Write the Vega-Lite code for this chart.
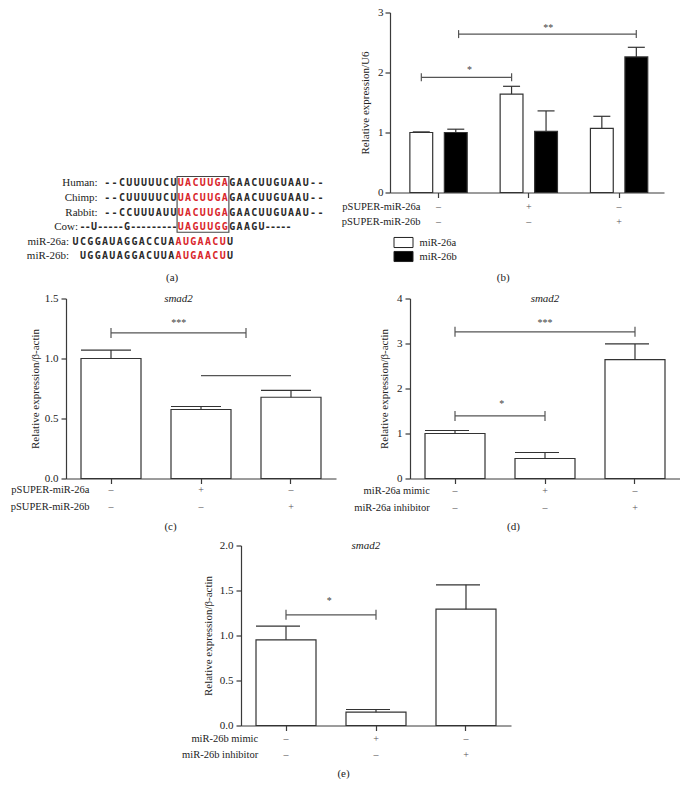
{
  "$schema": "https://vega.github.io/schema/vega-lite/v6.json",
  "padding": {"left": 10, "top": 6.5, "right": 0, "bottom": 0},
  "background": "white",
  "config": {
    "view": {"stroke": null},
    "font": "Liberation Serif",
    "axis": {"domainColor": "#3a3a3a", "tickColor": "#3a3a3a", "domainWidth": 1.2, "tickWidth": 1.2, "tickSize": 5, "labelColor": "#222", "titleColor": "#222", "labelFont": "Liberation Serif", "titleFont": "Liberation Serif", "labelFontSize": 11, "titleFontSize": 11, "titleFontWeight": "normal", "grid": false, "labelPadding": 3},
    "text": {"font": "Liberation Serif", "color": "#222"},
    "bar": {"opacity": 1},
    "tick": {"opacity": 1},
    "point": {"opacity": 1}
  },
  "datasets": {
    "bv": [
      {"g": "1", "s": "miR-26a", "v": 1.0, "e": 1.01},
      {"g": "1", "s": "miR-26b", "v": 1.0, "e": 1.055},
      {"g": "2", "s": "miR-26a", "v": 1.64, "e": 1.77},
      {"g": "2", "s": "miR-26b", "v": 1.02, "e": 1.36},
      {"g": "3", "s": "miR-26a", "v": 1.07, "e": 1.27},
      {"g": "3", "s": "miR-26b", "v": 2.26, "e": 2.42}
    ],
    "cv": [
      {"g": "1", "v": 1.0, "e": 1.07},
      {"g": "2", "v": 0.575, "e": 0.6},
      {"g": "3", "v": 0.677, "e": 0.735}
    ],
    "dv": [
      {"g": "1", "v": 1.0, "e": 1.067},
      {"g": "2", "v": 0.444, "e": 0.578},
      {"g": "3", "v": 2.64, "e": 2.99}
    ],
    "ev": [
      {"g": "1", "v": 0.952, "e": 1.104},
      {"g": "2", "v": 0.148, "e": 0.178},
      {"g": "3", "v": 1.293, "e": 1.563}
    ],
    "pt": [
      {"row": "pSUPER-miR-26a", "g": "1", "s": "–"},
      {"row": "pSUPER-miR-26a", "g": "2", "s": "+"},
      {"row": "pSUPER-miR-26a", "g": "3", "s": "–"},
      {"row": "pSUPER-miR-26b", "g": "1", "s": "–"},
      {"row": "pSUPER-miR-26b", "g": "2", "s": "–"},
      {"row": "pSUPER-miR-26b", "g": "3", "s": "+"}
    ],
    "dt": [
      {"row": "miR-26a mimic", "g": "1", "s": "–"},
      {"row": "miR-26a mimic", "g": "2", "s": "+"},
      {"row": "miR-26a mimic", "g": "3", "s": "–"},
      {"row": "miR-26a inhibitor", "g": "1", "s": "–"},
      {"row": "miR-26a inhibitor", "g": "2", "s": "–"},
      {"row": "miR-26a inhibitor", "g": "3", "s": "+"}
    ],
    "et": [
      {"row": "miR-26b mimic", "g": "1", "s": "–"},
      {"row": "miR-26b mimic", "g": "2", "s": "+"},
      {"row": "miR-26b mimic", "g": "3", "s": "–"},
      {"row": "miR-26b inhibitor", "g": "1", "s": "–"},
      {"row": "miR-26b inhibitor", "g": "2", "s": "–"},
      {"row": "miR-26b inhibitor", "g": "3", "s": "+"}
    ],
    "seq": [
      {"r": 0, "k": "b", "t": ["-","-","C","U","U","U","U","U","C","U","G","A","A","C","U","U","G","U","A","A","U","-","-"], "c": [-10,-9,-8,-7,-6,-5,-4,-3,-2,-1,7,8,9,10,11,12,13,14,15,16,17,18,19]},
      {"r": 0, "k": "r", "t": ["U","A","C","U","U","G","A"], "c": [0,1,2,3,4,5,6]},
      {"r": 1, "k": "b", "t": ["-","-","C","U","U","U","U","U","C","U","G","A","A","C","U","U","G","U","A","A","U","-","-"], "c": [-10,-9,-8,-7,-6,-5,-4,-3,-2,-1,7,8,9,10,11,12,13,14,15,16,17,18,19]},
      {"r": 1, "k": "r", "t": ["U","A","C","U","U","G","A"], "c": [0,1,2,3,4,5,6]},
      {"r": 2, "k": "b", "t": ["-","-","C","C","U","U","U","A","U","U","G","A","A","C","U","U","G","U","A","A","U","-","-"], "c": [-10,-9,-8,-7,-6,-5,-4,-3,-2,-1,7,8,9,10,11,12,13,14,15,16,17,18,19]},
      {"r": 2, "k": "r", "t": ["U","A","C","U","U","G","A"], "c": [0,1,2,3,4,5,6]},
      {"r": 3, "k": "b", "t": ["-","-","U","-","-","-","-","-","G","-","-","-","-","-","-","-","-","-","G","A","A","G","U","-","-","-","-","-"], "c": [-13.35,-12.65,-11.8,-10.95,-10.25,-9.55,-8.85,-8.15,-7.3,-6.45,-5.75,-5.05,-4.35,-3.65,-2.95,-2.25,-1.55,-0.85,7,8,9,10,11,11.85,12.55,13.25,13.95,14.65]},
      {"r": 3, "k": "r", "t": ["U","A","G","U","U","G","G"], "c": [0,1,2,3,4,5,6]},
      {"r": 4, "k": "b", "t": ["U","C","G","G","A","U","A","G","G","A","C","C","U","A","U"], "c": [-14.3,-13.3,-12.3,-11.3,-10.3,-9.3,-8.3,-7.3,-6.3,-5.3,-4.3,-3.3,-2.3,-1.3,6.7]},
      {"r": 4, "k": "r", "t": ["A","U","G","A","A","C","U"], "c": [-0.3,0.7,1.7,2.7,3.7,4.7,5.7]},
      {"r": 5, "k": "b", "t": ["U","G","G","A","U","A","G","G","A","C","U","U","A","U"], "c": [-13.3,-12.3,-11.3,-10.3,-9.3,-8.3,-7.3,-6.3,-5.3,-4.3,-3.3,-2.3,-1.3,6.7]},
      {"r": 5, "k": "r", "t": ["A","U","G","A","A","C","U"], "c": [-0.3,0.7,1.7,2.7,3.7,4.7,5.7]}
    ],
    "seqLabels": [
      {"r": 0, "c": -11.3, "t": "Human:"},
      {"r": 1, "c": -11.3, "t": "Chimp:"},
      {"r": 2, "c": -11.3, "t": "Rabbit:"},
      {"r": 3, "c": -13.97, "t": "Cow:"},
      {"r": 4, "c": -15.2, "t": "miR-26a:"},
      {"r": 5, "c": -15.2, "t": "miR-26b:"}
    ]
  },
  "spacing": 8,
  "vconcat": [
    {
      "spacing": 15,
      "hconcat": [
        {
          "width": 260,
          "height": 271.5,
          "layer": [
            {
              "data": {"name": "seq"},
              "transform": [{"flatten": ["t", "c"]}],
              "mark": {"type": "text", "font": "DejaVu Sans Mono", "fontWeight": "bold", "fontSize": 10, "baseline": "middle", "align": "center"},
              "encoding": {
                "x": {"field": "c", "type": "quantitative", "scale": {"domain": [-15.61, 19.76], "nice": false, "zero": false}, "axis": null},
                "y": {"field": "r", "type": "quantitative", "scale": {"domain": [-11.71, 6.886], "nice": false, "zero": false, "reverse": true}, "axis": null},
                "text": {"field": "t"},
                "color": {"field": "k", "type": "nominal", "scale": {"domain": ["b", "r"], "range": ["#2a2a2a", "#d9262b"]}, "legend": null}
              }
            },
            {
              "data": {"name": "seqLabels"},
              "mark": {"type": "text", "fontSize": 11, "baseline": "middle", "align": "right", "color": "#222"},
              "encoding": {
                "x": {"field": "c", "type": "quantitative"},
                "y": {"field": "r", "type": "quantitative"},
                "text": {"field": "t"}
              }
            },
            {
              "data": {"values": [{"r": 6.5, "c": -1.18, "t": "(a)"}]},
              "mark": {"type": "text", "fontSize": 11, "baseline": "middle", "align": "center", "color": "#222"},
              "encoding": {
                "x": {"field": "c", "type": "quantitative"},
                "y": {"field": "r", "type": "quantitative"},
                "text": {"field": "t"}
              }
            },
            {
              "data": {"values": [{"c1": -0.5, "c2": 6.55, "r1": -0.48, "r2": 3.34}]},
              "mark": {"type": "rect", "fill": null, "stroke": "#444", "strokeWidth": 1.1},
              "encoding": {
                "x": {"field": "c1", "type": "quantitative"},
                "x2": {"field": "c2"},
                "y": {"field": "r1", "type": "quantitative"},
                "y2": {"field": "r2"}
              }
            }
          ]
        },
        {
          "bounds": "flush",
          "spacing": 6.5,
          "vconcat": [
            {
              "width": 274,
              "height": 180,
              "layer": [
                {
                  "data": {"name": "bv"},
                  "mark": {"type": "bar", "stroke": "#333", "strokeWidth": 1.2},
                  "encoding": {
                    "x": {"field": "g", "type": "nominal", "scale": {"type": "band", "domain": ["1", "2", "3"], "paddingInner": 0.365, "paddingOuter": 0.2, "align": 0.55}, "axis": {"labels": false, "title": null}},
                    "xOffset": {"field": "s", "type": "nominal", "scale": {"domain": ["miR-26a", "miR-26b"], "paddingInner": 0.338, "paddingOuter": 0}},
                    "y": {"field": "v", "type": "quantitative", "scale": {"domain": [0, 3], "nice": false}, "axis": {"title": "Relative expression/U6", "values": [0, 1, 2, 3], "format": "d", "labelPadding": 2, "titlePadding": 7}},
                    "fill": {"field": "s", "type": "nominal", "scale": {"domain": ["miR-26a", "miR-26b"], "range": ["#ffffff", "#000000"]}, "legend": null}
                  }
                },
                {
                  "data": {"name": "bv"},
                  "mark": {"type": "rule", "color": "#333", "strokeWidth": 1.2},
                  "encoding": {
                    "x": {"field": "g", "type": "nominal"},
                    "xOffset": {"field": "s", "type": "nominal"},
                    "y": {"field": "v", "type": "quantitative"},
                    "y2": {"field": "e"}
                  }
                },
                {
                  "data": {"name": "bv"},
                  "mark": {"type": "tick", "orient": "horizontal", "color": "#333", "thickness": 1.2, "size": 17},
                  "encoding": {
                    "x": {"field": "g", "type": "nominal"},
                    "xOffset": {"field": "s", "type": "nominal"},
                    "y": {"field": "e", "type": "quantitative"}
                  }
                },
                {
                  "data": {"values": [{"a": "1", "b": "2", "y": 1.92}]},
                  "mark": {"type": "rule", "color": "#555", "strokeWidth": 1.2},
                  "encoding": {
                    "x": {"field": "a", "type": "nominal", "bandPosition": 0.2},
                    "x2": {"field": "b", "bandPosition": 0.2},
                    "y": {"field": "y", "type": "quantitative"}
                  }
                },
                {
                  "data": {"values": [{"a": "1", "b": "3", "y": 2.64}]},
                  "mark": {"type": "rule", "color": "#555", "strokeWidth": 1.2},
                  "encoding": {
                    "x": {"field": "a", "type": "nominal", "bandPosition": 0.85},
                    "x2": {"field": "b", "bandPosition": 0.8},
                    "y": {"field": "y", "type": "quantitative"}
                  }
                },
                {
                  "data": {"values": [{"x": "1", "y": 1.92}, {"x": "2", "y": 1.92}]},
                  "mark": {"type": "tick", "orient": "vertical", "color": "#555", "thickness": 1.2, "size": 8},
                  "encoding": {
                    "x": {"field": "x", "type": "nominal", "bandPosition": 0.2},
                    "y": {"field": "y", "type": "quantitative"}
                  }
                },
                {
                  "data": {"values": [{"x": "1", "y": 2.64}]},
                  "mark": {"type": "tick", "orient": "vertical", "color": "#555", "thickness": 1.2, "size": 8},
                  "encoding": {
                    "x": {"field": "x", "type": "nominal", "bandPosition": 0.85},
                    "y": {"field": "y", "type": "quantitative"}
                  }
                },
                {
                  "data": {"values": [{"x": "3", "y": 2.64}]},
                  "mark": {"type": "tick", "orient": "vertical", "color": "#555", "thickness": 1.2, "size": 8},
                  "encoding": {
                    "x": {"field": "x", "type": "nominal", "bandPosition": 0.8},
                    "y": {"field": "y", "type": "quantitative"}
                  }
                },
                {
                  "data": {"values": [{"x": "1", "y": 2.04, "t": "*"}]},
                  "mark": {"type": "text", "fontSize": 10, "baseline": "middle", "color": "#444"},
                  "encoding": {
                    "x": {"field": "x", "type": "nominal", "bandPosition": 1.04},
                    "y": {"field": "y", "type": "quantitative"},
                    "text": {"field": "t"}
                  }
                },
                {
                  "data": {"values": [{"x": "2", "y": 2.74, "t": "**"}]},
                  "mark": {"type": "text", "fontSize": 10, "baseline": "middle", "color": "#444"},
                  "encoding": {
                    "x": {"field": "x", "type": "nominal", "bandPosition": 0.84},
                    "y": {"field": "y", "type": "quantitative"},
                    "text": {"field": "t"}
                  }
                }
              ]
            },
            {
              "width": 274,
              "height": 30,
              "data": {"name": "pt"},
              "mark": {"type": "text", "fontSize": 10, "color": "#555", "baseline": "middle"},
              "encoding": {
                "x": {"field": "g", "type": "nominal", "scale": {"type": "band", "domain": ["1", "2", "3"], "paddingInner": 0.365, "paddingOuter": 0.2, "align": 0.55}, "axis": null},
                "y": {"field": "row", "type": "nominal", "scale": {"type": "band", "domain": ["pSUPER-miR-26a", "pSUPER-miR-26b"], "paddingInner": 0, "paddingOuter": 0}, "axis": {"domain": false, "ticks": false, "tickSize": 0, "labelPadding": -30, "labelAlign": "right", "labelFontSize": 10.5, "title": null}},
                "text": {"field": "s"}
              }
            },
            {
              "width": 27,
              "height": 28,
              "data": {"values": [{"s": "miR-26a"}, {"s": "miR-26b"}]},
              "mark": {"type": "point", "shape": "M-1,-0.53H1V0.53H-1Z", "size": 361, "filled": true, "stroke": "#222", "strokeWidth": 1, "opacity": 1},
              "encoding": {
                "x": {"datum": 0, "type": "quantitative", "scale": {"domain": [-1, 1]}, "axis": {"domain": false, "ticks": false, "labels": false, "grid": false, "title": "(b)", "titlePadding": 7.5, "titleX": 112.7}},
                "y": {"field": "s", "type": "nominal", "scale": {"type": "band", "domain": ["miR-26a", "miR-26b"], "paddingInner": 0, "paddingOuter": 0}, "axis": {"orient": "right", "domain": false, "ticks": false, "tickSize": 0, "labelPadding": 2, "labelFontSize": 10.5, "title": null}},
                "fill": {"field": "s", "type": "nominal", "scale": {"domain": ["miR-26a", "miR-26b"], "range": ["#ffffff", "#000000"]}, "legend": null}
              }
            }
          ]
        }
      ]
    },
    {
      "spacing": 17,
      "hconcat": [
        {
          "bounds": "flush",
          "spacing": 3.35,
          "vconcat": [
            {
              "width": 270,
              "height": 180,
              "layer": [
                {
                  "data": {"name": "cv"},
                  "mark": {"type": "bar", "fill": "#ffffff", "stroke": "#333", "strokeWidth": 1.2},
                  "encoding": {
                    "x": {"field": "g", "type": "nominal", "scale": {"type": "band", "domain": ["1", "2", "3"], "paddingInner": 0.3333, "paddingOuter": 0.1667}, "axis": {"labels": false, "title": null}},
                    "y": {"field": "v", "type": "quantitative", "scale": {"domain": [0, 1.5], "nice": false}, "axis": {"title": "Relative expression/β-actin", "values": [0, 0.5, 1, 1.5], "format": ".1f", "titlePadding": 4}}
                  }
                },
                {
                  "data": {"name": "cv"},
                  "mark": {"type": "rule", "color": "#333", "strokeWidth": 1.2},
                  "encoding": {"x": {"field": "g", "type": "nominal"}, "y": {"field": "v", "type": "quantitative"}, "y2": {"field": "e"}}
                },
                {
                  "data": {"name": "cv"},
                  "mark": {"type": "tick", "orient": "horizontal", "color": "#333", "thickness": 1.2, "size": 50, "xOffset": -5},
                  "encoding": {"x": {"field": "g", "type": "nominal"}, "y": {"field": "e", "type": "quantitative"}}
                },
                {
                  "data": {"values": [{"a": "1", "b": "2", "y": 1.213}]},
                  "mark": {"type": "rule", "color": "#555", "strokeWidth": 1.2},
                  "encoding": {
                    "x": {"field": "a", "type": "nominal", "bandPosition": 0.5},
                    "x2": {"field": "b", "bandPosition": 1.25},
                    "y": {"field": "y", "type": "quantitative"}
                  }
                },
                {
                  "data": {"values": [{"x": "1", "y": 1.213}]},
                  "mark": {"type": "tick", "orient": "vertical", "color": "#555", "thickness": 1.2, "size": 10},
                  "encoding": {"x": {"field": "x", "type": "nominal", "bandPosition": 0.5}, "y": {"field": "y", "type": "quantitative"}}
                },
                {
                  "data": {"values": [{"x": "2", "y": 1.213}]},
                  "mark": {"type": "tick", "orient": "vertical", "color": "#555", "thickness": 1.2, "size": 10},
                  "encoding": {"x": {"field": "x", "type": "nominal", "bandPosition": 1.25}, "y": {"field": "y", "type": "quantitative"}}
                },
                {
                  "data": {"values": [{"a": "2", "b": "3", "y": 0.858}]},
                  "mark": {"type": "rule", "color": "#555", "strokeWidth": 1.2},
                  "encoding": {
                    "x": {"field": "a", "type": "nominal", "bandPosition": 0.5},
                    "x2": {"field": "b", "bandPosition": 0.5},
                    "y": {"field": "y", "type": "quantitative"}
                  }
                },
                {
                  "data": {"values": [{"x": "1", "y": 1.3, "t": "***"}]},
                  "mark": {"type": "text", "fontSize": 10, "baseline": "middle", "color": "#444"},
                  "encoding": {"x": {"field": "x", "type": "nominal", "bandPosition": 1.63}, "y": {"field": "y", "type": "quantitative"}, "text": {"field": "t"}}
                },
                {
                  "data": {"values": [{"x": "1", "y": 1.5, "t": "smad2"}]},
                  "mark": {"type": "text", "fontSize": 11, "fontStyle": "italic", "baseline": "middle", "color": "#222"},
                  "encoding": {"x": {"field": "x", "type": "nominal", "bandPosition": 1.625}, "y": {"field": "y", "type": "quantitative"}, "text": {"field": "t"}}
                }
              ]
            },
            {
              "width": 270,
              "height": 33.4,
              "data": {"name": "pt"},
              "mark": {"type": "text", "fontSize": 10, "color": "#555", "baseline": "middle"},
              "encoding": {
                "x": {"field": "g", "type": "nominal", "scale": {"type": "band", "domain": ["1", "2", "3"], "paddingInner": 0.3333, "paddingOuter": 0.1667}, "axis": {"domain": false, "ticks": false, "labels": false, "title": "(c)", "titlePadding": 5, "titleX": 104}},
                "y": {"field": "row", "type": "nominal", "scale": {"type": "band", "domain": ["pSUPER-miR-26a", "pSUPER-miR-26b"], "paddingInner": 0, "paddingOuter": 0}, "axis": {"domain": false, "ticks": false, "tickSize": 0, "labelPadding": -23, "labelAlign": "right", "labelFontSize": 10.5, "title": null}},
                "text": {"field": "s"}
              }
            }
          ]
        },
        {
          "bounds": "flush",
          "spacing": 4.1,
          "vconcat": [
            {
              "width": 270,
              "height": 180,
              "layer": [
                {
                  "data": {"name": "dv"},
                  "mark": {"type": "bar", "fill": "#ffffff", "stroke": "#333", "strokeWidth": 1.2},
                  "encoding": {
                    "x": {"field": "g", "type": "nominal", "scale": {"type": "band", "domain": ["1", "2", "3"], "paddingInner": 0.3333, "paddingOuter": 0.1667}, "axis": {"labels": false, "title": null}},
                    "y": {"field": "v", "type": "quantitative", "scale": {"domain": [0, 4], "nice": false}, "axis": {"title": "Relative expression/β-actin", "values": [0, 1, 2, 3, 4], "format": "d", "titlePadding": 7}}
                  }
                },
                {
                  "data": {"name": "dv"},
                  "mark": {"type": "rule", "color": "#333", "strokeWidth": 1.2},
                  "encoding": {"x": {"field": "g", "type": "nominal"}, "y": {"field": "v", "type": "quantitative"}, "y2": {"field": "e"}}
                },
                {
                  "data": {"name": "dv"},
                  "mark": {"type": "tick", "orient": "horizontal", "color": "#333", "thickness": 1.2, "size": 44, "xOffset": -8},
                  "encoding": {"x": {"field": "g", "type": "nominal"}, "y": {"field": "e", "type": "quantitative"}}
                },
                {
                  "data": {"values": [{"a": "1", "b": "2", "y": 1.39}, {"a": "1", "b": "3", "y": 3.26}]},
                  "mark": {"type": "rule", "color": "#555", "strokeWidth": 1.2},
                  "encoding": {
                    "x": {"field": "a", "type": "nominal", "bandPosition": 0.5},
                    "x2": {"field": "b", "bandPosition": 0.5},
                    "y": {"field": "y", "type": "quantitative"}
                  }
                },
                {
                  "data": {"values": [{"x": "1", "y": 1.39}, {"x": "2", "y": 1.39}, {"x": "1", "y": 3.26}, {"x": "3", "y": 3.26}]},
                  "mark": {"type": "tick", "orient": "vertical", "color": "#555", "thickness": 1.2, "size": 10},
                  "encoding": {"x": {"field": "x", "type": "nominal", "bandPosition": 0.5}, "y": {"field": "y", "type": "quantitative"}}
                },
                {
                  "data": {"values": [{"x": "1", "y": 1.65, "t": "*"}]},
                  "mark": {"type": "text", "fontSize": 10, "baseline": "middle", "color": "#444"},
                  "encoding": {"x": {"field": "x", "type": "nominal", "bandPosition": 1.28}, "y": {"field": "y", "type": "quantitative"}, "text": {"field": "t"}}
                },
                {
                  "data": {"values": [{"x": "2", "y": 3.46, "t": "***"}]},
                  "mark": {"type": "text", "fontSize": 10, "baseline": "middle", "color": "#444"},
                  "encoding": {"x": {"field": "x", "type": "nominal", "bandPosition": 0.5}, "y": {"field": "y", "type": "quantitative"}, "text": {"field": "t"}}
                },
                {
                  "data": {"values": [{"x": "2", "y": 4, "t": "smad2"}]},
                  "mark": {"type": "text", "fontSize": 11, "fontStyle": "italic", "baseline": "middle", "color": "#222"},
                  "encoding": {"x": {"field": "x", "type": "nominal", "bandPosition": 0.5}, "y": {"field": "y", "type": "quantitative"}, "text": {"field": "t"}}
                }
              ]
            },
            {
              "width": 270,
              "height": 33.2,
              "data": {"name": "dt"},
              "mark": {"type": "text", "fontSize": 10, "color": "#555", "baseline": "middle"},
              "encoding": {
                "x": {"field": "g", "type": "nominal", "scale": {"type": "band", "domain": ["1", "2", "3"], "paddingInner": 0.3333, "paddingOuter": 0.1667}, "axis": {"domain": false, "ticks": false, "labels": false, "title": "(d)", "titlePadding": 4.6, "titleX": 103}},
                "y": {"field": "row", "type": "nominal", "scale": {"type": "band", "domain": ["miR-26a mimic", "miR-26a inhibitor"], "paddingInner": 0, "paddingOuter": 0}, "axis": {"domain": false, "ticks": false, "tickSize": 0, "labelPadding": -19.3, "labelAlign": "right", "labelFontSize": 10.5, "title": null}},
                "text": {"field": "s"}
              }
            }
          ]
        }
      ]
    },
    {
      "spacing": 10,
      "hconcat": [
        {
          "width": 105,
          "height": 20,
          "data": {"values": [{"z": 0}]},
          "mark": {"type": "point", "opacity": 0}
        },
        {
          "bounds": "flush",
          "spacing": 5.3,
          "vconcat": [
            {
              "width": 270,
              "height": 180,
              "layer": [
                {
                  "data": {"name": "ev"},
                  "mark": {"type": "bar", "fill": "#ffffff", "stroke": "#333", "strokeWidth": 1.2},
                  "encoding": {
                    "x": {"field": "g", "type": "nominal", "scale": {"type": "band", "domain": ["1", "2", "3"], "paddingInner": 0.3333, "paddingOuter": 0.1667}, "axis": {"labels": false, "title": null}},
                    "y": {"field": "v", "type": "quantitative", "scale": {"domain": [0, 2], "nice": false}, "axis": {"title": "Relative expression/β-actin", "values": [0, 0.5, 1, 1.5, 2], "format": ".1f", "titlePadding": 5.5}}
                  }
                },
                {
                  "data": {"name": "ev"},
                  "mark": {"type": "rule", "color": "#333", "strokeWidth": 1.2},
                  "encoding": {"x": {"field": "g", "type": "nominal"}, "y": {"field": "v", "type": "quantitative"}, "y2": {"field": "e"}}
                },
                {
                  "data": {"name": "ev"},
                  "mark": {"type": "tick", "orient": "horizontal", "color": "#333", "thickness": 1.2, "size": 44, "xOffset": -8},
                  "encoding": {"x": {"field": "g", "type": "nominal"}, "y": {"field": "e", "type": "quantitative"}}
                },
                {
                  "data": {"values": [{"a": "1", "b": "2", "y": 1.23}]},
                  "mark": {"type": "rule", "color": "#555", "strokeWidth": 1.2},
                  "encoding": {
                    "x": {"field": "a", "type": "nominal", "bandPosition": 0.5},
                    "x2": {"field": "b", "bandPosition": 0.5},
                    "y": {"field": "y", "type": "quantitative"}
                  }
                },
                {
                  "data": {"values": [{"x": "1", "y": 1.23}, {"x": "2", "y": 1.23}]},
                  "mark": {"type": "tick", "orient": "vertical", "color": "#555", "thickness": 1.2, "size": 10},
                  "encoding": {"x": {"field": "x", "type": "nominal", "bandPosition": 0.5}, "y": {"field": "y", "type": "quantitative"}}
                },
                {
                  "data": {"values": [{"x": "1", "y": 1.38, "t": "*"}]},
                  "mark": {"type": "text", "fontSize": 10, "baseline": "middle", "color": "#444"},
                  "encoding": {"x": {"field": "x", "type": "nominal", "bandPosition": 1.22}, "y": {"field": "y", "type": "quantitative"}, "text": {"field": "t"}}
                },
                {
                  "data": {"values": [{"x": "2", "y": 2, "t": "smad2"}]},
                  "mark": {"type": "text", "fontSize": 11, "fontStyle": "italic", "baseline": "middle", "color": "#222"},
                  "encoding": {"x": {"field": "x", "type": "nominal", "bandPosition": 0.33}, "y": {"field": "y", "type": "quantitative"}, "text": {"field": "t"}}
                }
              ]
            },
            {
              "width": 270,
              "height": 32,
              "data": {"name": "et"},
              "mark": {"type": "text", "fontSize": 10, "color": "#555", "baseline": "middle"},
              "encoding": {
                "x": {"field": "g", "type": "nominal", "scale": {"type": "band", "domain": ["1", "2", "3"], "paddingInner": 0.3333, "paddingOuter": 0.1667}, "axis": {"domain": false, "ticks": false, "labels": false, "title": "(e)", "titlePadding": 4.5, "titleX": 102}},
                "y": {"field": "row", "type": "nominal", "scale": {"type": "band", "domain": ["miR-26b mimic", "miR-26b inhibitor"], "paddingInner": 0, "paddingOuter": 0}, "axis": {"domain": false, "ticks": false, "tickSize": 0, "labelPadding": -16.7, "labelAlign": "right", "labelFontSize": 10.5, "title": null}},
                "text": {"field": "s"}
              }
            }
          ]
        }
      ]
    }
  ]
}
